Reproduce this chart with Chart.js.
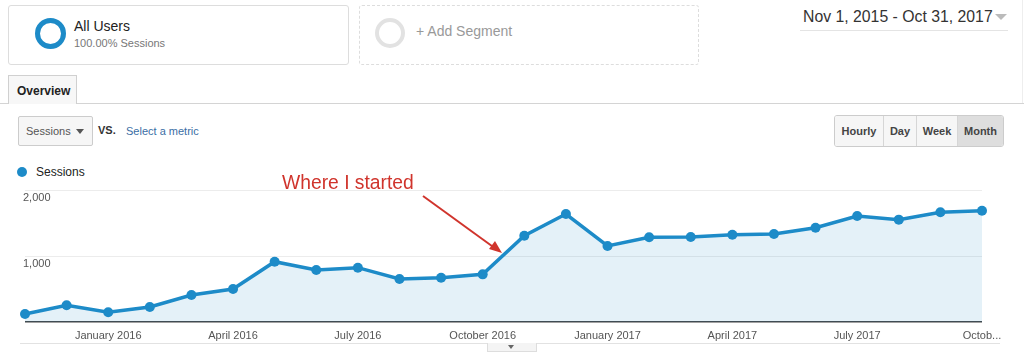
<!DOCTYPE html>
<html>
<head>
<meta charset="utf-8">
<script src="https://cdn.jsdelivr.net/npm/chart.js@4.4.0/dist/chart.umd.min.js"></script>
<style>
  body { margin: 0; width: 1024px; height: 363px; background: #fff; overflow: hidden;
         font-family: "Liberation Sans", Arial, Helvetica, sans-serif; position: relative; }
  .abs { position: absolute; }
  .seg { left: 8px; top: 5px; width: 339px; height: 58px; border: 1px solid #ddd; border-radius: 3px; }
  .seg2 { left: 359px; top: 5px; width: 338px; height: 58px; border: 1px dashed #ddd; border-radius: 3px; }
  .ring { border-radius: 50%; box-sizing: border-box; }
  .tabline { left: 0; top: 103px; width: 1024px; height: 1px; background: #d4d4d4; }
  .tab { left: 8px; top: 75px; width: 69px; height: 29px; border: 1px solid #d0d0d0; border-bottom: none;
         background: #f7f7f7; font-size: 12px; font-weight: bold; color: #222; box-sizing: border-box;
         padding: 8px 0 0 8px; }
  .dd { left: 18px; top: 116px; width: 75px; height: 30px; border: 1px solid #ccc; border-radius: 2px;
        background: #f6f6f6; box-sizing: border-box; font-size: 11px; color: #555; padding: 8px 0 0 7px; }
  .btns { left: 834px; top: 115px; height: 32px; display: flex; border: 1px solid #ccc; border-radius: 3px;
          overflow: hidden; box-sizing: border-box; }
  .btns div { font-size: 11px; font-weight: bold; color: #444; line-height: 30px; text-align: center;
              background: #f6f6f6; border-left: 1px solid #d6d6d6; box-sizing: border-box; }
  .btns div:first-child { border-left: none; }
  .btns .on { background: #dedede; }
</style>
</head>
<body>
<div class="abs seg"></div>
<div class="abs ring" style="left:35px;top:18px;width:31px;height:31px;border:5px solid #1d8bc8;"></div>
<div class="abs" style="left:74px;top:18px;font-size:14px;color:#222;">All Users</div>
<div class="abs" style="left:74px;top:37px;font-size:11px;color:#777;">100.00% Sessions</div>

<div class="abs seg2"></div>
<div class="abs ring" style="left:375px;top:18px;width:30px;height:30px;border:4px solid #e2e2e2;"></div>
<div class="abs" style="left:416px;top:23px;font-size:14px;color:#999;">+ Add Segment</div>

<div class="abs" style="left:803px;top:8px;font-size:15.8px;color:#333;">Nov 1, 2015 - Oct 31, 2017</div>
<div class="abs" style="left:995px;top:14px;width:0;height:0;border-left:6px solid transparent;border-right:6px solid transparent;border-top:6px solid #bbb;"></div>
<div class="abs" style="left:800px;top:30px;width:208px;height:1px;background:#e4e4e4;"></div>
<div class="abs" style="left:1022px;top:0;width:1px;height:104px;background:#eee;"></div>

<div class="abs tabline"></div>
<div class="abs tab">Overview</div>

<div class="abs dd">Sessions</div>
<div class="abs" style="left:76px;top:129px;width:0;height:0;border-left:4px solid transparent;border-right:4px solid transparent;border-top:5px solid #555;"></div>
<div class="abs" style="left:98px;top:124px;font-size:11px;font-weight:bold;color:#333;">VS.</div>
<div class="abs" style="left:126px;top:125px;font-size:11px;color:#3a6ea5;">Select a metric</div>

<div class="abs btns">
  <div style="width:48px;">Hourly</div>
  <div style="width:33px;">Day</div>
  <div style="width:41px;">Week</div>
  <div class="on" style="width:46px;">Month</div>
</div>

<div class="abs ring" style="left:17px;top:167px;width:10px;height:10px;background:#1d8bc8;"></div>
<div class="abs" style="left:36px;top:165px;font-size:12px;color:#222;">Sessions</div>

<div class="abs" style="left:0;top:180px;width:1024px;height:166px;">
  <canvas id="c"></canvas>
</div>

<div class="abs" style="left:20px;top:343px;width:980px;height:1px;background:#e2e2e2;"></div>
<div class="abs" style="left:487px;top:343px;width:48px;height:8px;border:1px solid #ddd;border-top:none;background:#f4f4f4;"></div>
<div class="abs" style="left:508px;top:345px;width:0;height:0;border-left:3px solid transparent;border-right:3px solid transparent;border-top:4px solid #666;"></div>

<div class="abs" style="left:282px;top:172px;font-size:19.3px;color:#d0342c;">Where I started</div>
<svg class="abs" style="left:0;top:0;" width="1024" height="363">
  <line x1="423" y1="196" x2="496" y2="249" stroke="#d0342c" stroke-width="2"/>
  <polygon points="502,253 489,249 495,241" fill="#d0342c"/>
</svg>

<script>
const months = ['Nov 2015', 'Dec 2015', 'Jan 2016', 'Feb 2016', 'Mar 2016', 'Apr 2016',
  'May 2016', 'Jun 2016', 'Jul 2016', 'Aug 2016', 'Sep 2016', 'Oct 2016',
  'Nov 2016', 'Dec 2016', 'Jan 2017', 'Feb 2017', 'Mar 2017', 'Apr 2017',
  'May 2017', 'Jun 2017', 'Jul 2017', 'Aug 2017', 'Sep 2017', 'Oct 2017'];
const sessions = [121, 253, 147, 227, 409, 500, 914, 788, 823, 651, 671, 722,
  1308, 1636, 1152, 1283, 1288, 1323, 1333, 1429, 1606, 1551, 1662, 1686];
const axisLabels = ['', '', 'January 2016', '', '', 'April 2016', '', '', 'July 2016', '', '', 'October 2016',
  '', '', 'January 2017', '', '', 'April 2017', '', '', 'July 2017', '', '', 'Octob...'];
const yTicks = [0, 1000, 2000];

const blue = '#1d8bc8';

new Chart(document.getElementById('c'), {
  type: 'line',
  data: {
    labels: months,
    datasets: [{
      label: 'Sessions',
      data: sessions,
      borderColor: blue,
      backgroundColor: 'rgba(29, 139, 200, 0.12)',
      borderWidth: 3.5,
      fill: 'origin',
      tension: 0,
      pointRadius: 5,
      pointBackgroundColor: blue,
      pointBorderWidth: 0
    }]
  },
  options: {
    responsive: true,
    maintainAspectRatio: false,
    animation: false,
    layout: { padding: { left: 25, right: 42, top: 10, bottom: 0 } },
    plugins: { legend: { display: false }, tooltip: { enabled: false } },
    scales: {
      x: {
        offset: false,
        grid: { display: false, drawTicks: false },
        border: { display: false },
        afterFit: s => { s.height = 24; },
        ticks: {
          autoSkip: false,
          maxRotation: 0,
          padding: 7,
          color: '#555',
          font: { family: 'Liberation Sans, Arial, sans-serif', size: 11 },
          callback: (v, i) => axisLabels[i]
        }
      },
      y: {
        min: 0,
        max: 2000,
        afterBuildTicks: s => { s.ticks = yTicks.map(v => ({ value: v })); },
        afterFit: s => { s.width = 0; },
        grid: {
          drawTicks: false,
          color: c => c.tick.value === 0 ? '#444' : '#ececec',
          lineWidth: c => c.tick.value === 0 ? 1.5 : 1
        },
        border: { display: false },
        ticks: {
          mirror: true,
          padding: -2,
          labelOffset: 8,
          color: '#555',
          font: { family: 'Liberation Sans, Arial, sans-serif', size: 11 },
          callback: v => v === 0 ? '' : v.toLocaleString('en-US')
        }
      }
    }
  }
});
</script>
</body>
</html>
